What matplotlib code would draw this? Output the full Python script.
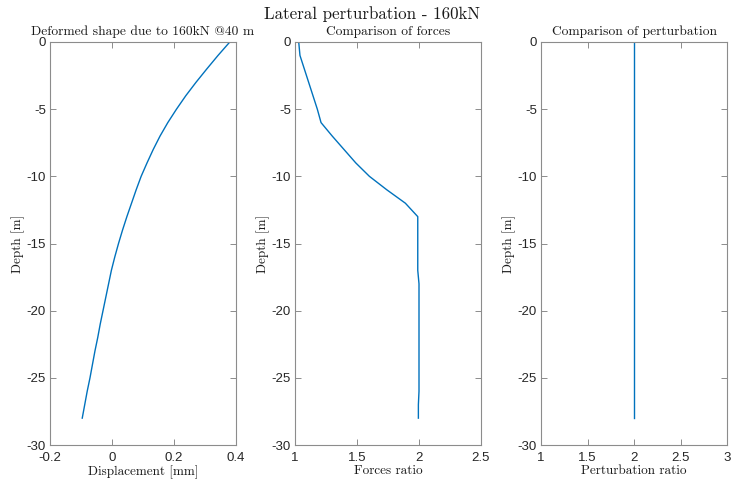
import matplotlib
matplotlib.use("Agg")
import matplotlib.pyplot as plt
from matplotlib.ticker import FuncFormatter

# Depth along the pile [m]
depth = [0, -1, -2, -3, -4, -5, -6, -7, -8, -9, -10, -11, -12, -13, -14,
         -15, -16, -17, -18, -19, -20, -21, -22, -23, -24, -25, -26, -27, -28]

# Lateral displacement [mm]
displacement = [0.380, 0.342, 0.306, 0.271, 0.238, 0.208, 0.180, 0.155, 0.133,
                0.113, 0.094, 0.078, 0.063, 0.048, 0.034, 0.021, 0.009, -0.002,
                -0.011, -0.020, -0.029, -0.038, -0.046, -0.055, -0.063, -0.071,
                -0.080, -0.088, -0.096]

# Ratio of forces
forces_ratio = [1.03, 1.04, 1.075, 1.11, 1.145, 1.18, 1.21, 1.30, 1.395, 1.49,
                1.60, 1.74, 1.89, 1.99, 1.99, 1.99, 1.99, 1.99, 2.00, 2.00,
                2.00, 2.00, 2.00, 2.00, 2.00, 2.00, 2.00, 1.995, 1.995]

# Ratio of perturbation
perturbation_ratio = [2.0] * len(depth)

x_ticks = [[-0.2, 0, 0.2, 0.4], [1, 1.5, 2, 2.5], [1, 1.5, 2, 2.5, 3]]
x_limits = [(-0.2, 0.4), (1, 2.5), (1, 3)]
y_ticks = [0, -5, -10, -15, -20, -25, -30]
titles = ["Deformed shape due to 160kN @40 m", "Comparison of forces",
          "Comparison of perturbation"]
x_labels = ["Displacement [mm]", "Forces ratio", "Perturbation ratio"]
series = [displacement, forces_ratio, perturbation_ratio]

plt.rcParams["axes.unicode_minus"] = False
serif = "cmr10"
sans = "Liberation Sans"
line_color = "#0072BD"
axis_color = "#8c8c8c"
label_color = "#262626"
text_color = "#1a1a1a"

fig = plt.figure(figsize=(7.31, 4.84), dpi=100)
lefts = [50 / 731, 295 / 731, 541 / 731]
width = 186 / 731
bottom = 39 / 484
height = 403 / 484

fmt = FuncFormatter(lambda v, p: "%g" % v)

for i in range(3):
    ax = fig.add_axes([lefts[i], bottom, width, height])
    ax.plot(series[i], depth, color=line_color, lw=1.0)
    ax.set_xlim(*x_limits[i])
    ax.set_ylim(-30, 0)
    ax.set_xticks(x_ticks[i])
    ax.set_yticks(y_ticks)
    ax.xaxis.set_major_formatter(fmt)
    ax.yaxis.set_major_formatter(fmt)
    ax.tick_params(direction="in", length=4, width=0.7, color=axis_color,
                   top=True, right=True, labelsize=9.5, labelcolor=label_color)
    ax.tick_params(axis="x", pad=5)
    ax.tick_params(axis="y", pad=3)
    for lab in ax.get_xticklabels() + ax.get_yticklabels():
        lab.set_fontfamily(sans)
    for sp in ax.spines.values():
        sp.set_color(axis_color)
        sp.set_linewidth(0.8)
    ax.set_title(titles[i], family=serif, fontsize=9.7, color=text_color, pad=5)
    ax.set_xlabel(x_labels[i], family=serif, fontsize=9.5, color=text_color,
                  labelpad=1)
    ax.set_ylabel("Depth [m]", family=serif, fontsize=9.5, color=text_color,
                  labelpad=1)

fig.text(372 / 731, 1 - 14 / 484, "Lateral perturbation - 160kN", family=serif,
         fontsize=12.2, color=text_color, ha="center", va="center")

fig.savefig("out.png", dpi=100)
